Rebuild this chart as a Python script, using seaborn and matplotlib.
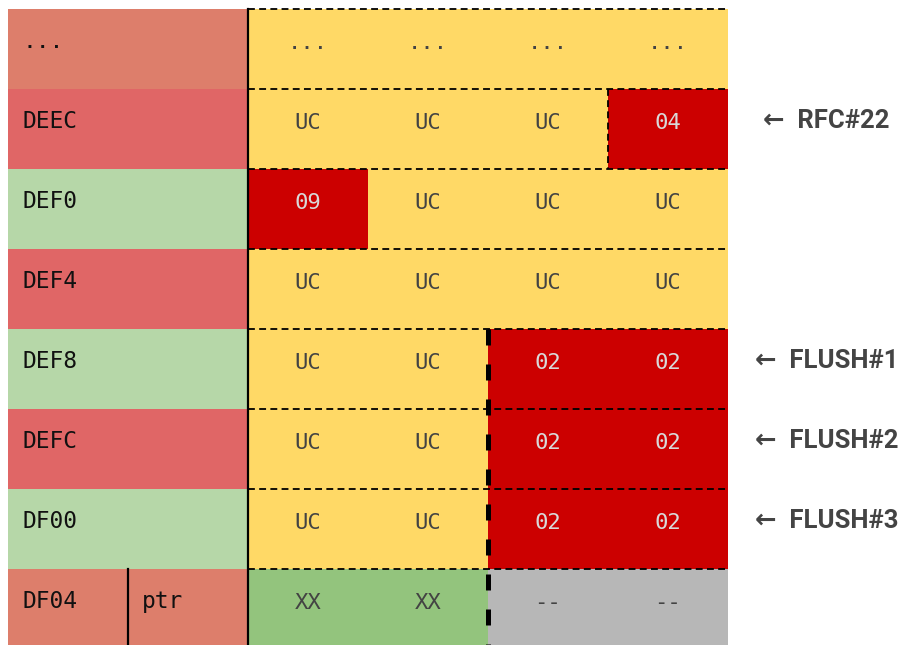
import numpy as np
import matplotlib
matplotlib.use("Agg")
import matplotlib.pyplot as plt
import seaborn as sns
from matplotlib.colors import ListedColormap

# ==========================================================
# Data
# ==========================================================

row_labels = ["...", "DEEC", "DEF0", "DEF4", "DEF8", "DEFC", "DF00", "DF04"]
row_kind = ["head", "odd", "even", "odd", "even", "odd", "even", "head"]

cells = [
    ["...", "...", "...", "..."],
    ["UC", "UC", "UC", "04"],
    ["09", "UC", "UC", "UC"],
    ["UC", "UC", "UC", "UC"],
    ["UC", "UC", "02", "02"],
    ["UC", "UC", "02", "02"],
    ["UC", "UC", "02", "02"],
    ["XX", "XX", "--", "--"],
]

notes = {1: "RFC#22", 4: "FLUSH#1", 5: "FLUSH#2", 6: "FLUSH#3"}

# colour per category code
palette = ["#DD7E6B", "#E06666", "#B6D7A8", "#FFD966", "#CC0000", "#93C47D", "#B7B7B7"]
kind_code = {"head": 0, "odd": 1, "even": 2}


def cell_code(v):
    if v == "XX":
        return 5
    if v == "--":
        return 6
    if v[0].isdigit():
        return 4
    return 3


# ==========================================================
# Build grid (2 label columns + 4 data columns)
# ==========================================================

grid = []
for i, row in enumerate(cells):
    k = kind_code[row_kind[i]]
    grid.append([k, k] + [cell_code(v) for v in row])
grid = np.array(grid)

# ==========================================================
# Plot
# ==========================================================

fig = plt.figure(figsize=(9.01, 6.45), dpi=100)
ax = fig.add_axes([8 / 901, -4 / 645, 720 / 901, 640 / 645])

sns.heatmap(grid, cmap=ListedColormap(palette), vmin=-0.5, vmax=6.5,
            cbar=False, linewidths=0, ax=ax)
ax.set_xticks([])
ax.set_yticks([])
ax.set_xlabel("")
ax.set_ylabel("")
for s in ax.spines.values():
    s.set_visible(False)

mono = "DejaVu Sans Mono"
n = len(row_labels)

# row labels
for i, lab in enumerate(row_labels):
    ax.text(0.117, i + 0.49, lab, family=mono, fontsize=16.5, color="#111111",
            ha="left", va="baseline")
ax.text(1.117, n - 1 + 0.49, "ptr", family=mono, fontsize=16.5, color="#111111",
        ha="left", va="baseline")

# cell values
for i, row in enumerate(cells):
    for j, v in enumerate(row):
        col = "#D9D9D9" if cell_code(v) == 4 else "#434343"
        ax.text(j + 2.5, i + 0.505, v, family=mono, fontsize=16, color=col,
                ha="center", va="baseline")

# right hand notes
for i, txt in notes.items():
    ax.text(6.82, i + 0.49, "\u2190  " + txt, family=["Roboto", "DejaVu Sans"],
            fontsize=18.5, fontweight="bold", color="#444444",
            ha="center", va="baseline", clip_on=False)

# ==========================================================
# Lines
# ==========================================================

thin = dict(color="black", lw=1.3, linestyle=(0, (3.8, 2.4)), clip_on=False)
for y in range(n):
    ax.plot([2, 6], [y, y], **thin)
ax.plot([5, 5], [1, 2], **thin)

ax.plot([2, 2], [0, n], color="black", lw=1.6, clip_on=False)
ax.plot([1, 1], [n - 1, n], color="black", lw=1.6)
ax.plot([4, 4], [4, n], color="black", lw=3.6, linestyle=(0, (3.2, 3.8)),
        clip_on=False)

fig.savefig("out.png", dpi=100)
